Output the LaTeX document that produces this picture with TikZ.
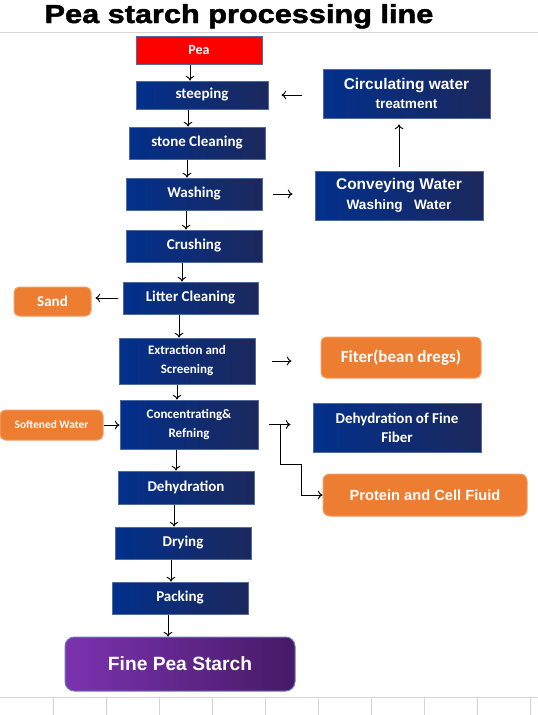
\documentclass[tikz,border=0pt]{standalone}
\usepackage{fontspec}
\usetikzlibrary{arrows.meta}
\newfontfamily\calib{Carlito}
\newfontfamily\arial{Liberation Sans}
\newfontfamily\titlefont{Liberation Sans Bold}[FakeBold=1.8,FakeStretch=1.18]
\definecolor{stepL}{RGB}{2,48,140}
\definecolor{stepR}{RGB}{28,40,92}
\definecolor{stepedge}{RGB}{78,108,160}
\definecolor{peared}{RGB}{255,0,0}
\definecolor{outorange}{RGB}{237,125,49}
\definecolor{starchL}{RGB}{124,50,176}
\definecolor{starchR}{RGB}{70,26,102}
\definecolor{starchedge}{RGB}{112,122,182}
\definecolor{gridgray}{RGB}{212,212,212}
\tikzset{
  boxbase/.style={inner sep=0pt, align=center, text=white, line width=0.75pt},
  stepbox/.style={boxbase, draw=stepedge, left color=stepL, middle color=stepL!85!stepR, right color=stepR, font=\calib\bfseries\fontsize{11.25}{14.25}\selectfont},
  outbox/.style={boxbase, draw=outorange!75!white, fill=outorange, rounded corners=4pt, font=\calib\bfseries\fontsize{11.25}{14.25}\selectfont},
  flow/.style={-{To[length=3.5pt,width=6.5pt]}, line width=0.7pt},
}
\begin{document}
\begin{tikzpicture}[x=0.75pt,y=0.75pt,yscale=-1,xscale=1]
\useasboundingbox (0,0) rectangle (538,715);
\fill[white] (0,0) rectangle (538,715);

% Title
\node (title) [anchor=base, font=\titlefont\fontsize{19.5}{22}\selectfont] at (239,23) {Pea starch processing line};
% Sheet lines
\draw[gridgray, line width=0.75pt] (0,32) -- (538,32);
\draw[gridgray, line width=0.75pt] (0,697) -- (538,697);
\foreach \gx in {53,106,...,530}
  \draw[gridgray, line width=0.75pt] (\gx,697) -- (\gx,715);

% Main line
\node (pea) [boxbase, draw=stepedge, fill=peared, font=\calib\bfseries\fontsize{10.5}{12}\selectfont, minimum width=94.5pt, minimum height=21pt] at (199,50) {Pea};
\node (steep) [stepbox, minimum width=99pt, minimum height=21pt] at (202,95) {steeping};
\node (stone) [stepbox, minimum width=102pt, minimum height=24pt] at (197,143) {stone Cleaning};
\node (wash) [stepbox, minimum width=102pt, minimum height=24pt] at (194,194) {Washing};
\node (crush) [stepbox, minimum width=102pt, minimum height=24pt] at (194,246) {Crushing};
\node (litter) [stepbox, minimum width=101.25pt, minimum height=24pt] at (190.5,298) {Litter Cleaning};
\node (extract) [stepbox, font=\calib\bfseries\fontsize{9.75}{14.25}\selectfont, minimum width=102pt, minimum height=34.5pt] at (187,361) {Extraction and\\Screening};
\node (conc) [stepbox, font=\calib\bfseries\fontsize{9.75}{14.25}\selectfont, minimum width=103.5pt, minimum height=36.75pt] at (189,424.5) {Concentrating\&\\Refning};
\node (dehyd) [stepbox, minimum width=102pt, minimum height=24.75pt] at (186,487.5) {Dehydration};
\node (dry) [stepbox, minimum width=102pt, minimum height=24pt] at (183,543) {Drying};
\node (pack) [stepbox, minimum width=102pt, minimum height=24pt] at (180,598) {Packing};
\node (fine) [boxbase, draw=starchedge, left color=starchL, right color=starchR, rounded corners=7pt, font=\arial\bfseries\fontsize{14.4}{16}\selectfont, minimum width=172.5pt, minimum height=40.5pt] at (180,664) {Fine Pea Starch};

% Side boxes
\node (circ) [stepbox, font=\arial\bfseries\fontsize{11.6}{14.25}\selectfont, minimum width=125.25pt, minimum height=36.75pt] at (406.5,93.5) {Circulating water\\{\fontsize{10.2}{12}\selectfont treatment}};
\node (convey) [stepbox, font=\arial\bfseries\fontsize{11.6}{15}\selectfont, minimum width=126pt, minimum height=36.75pt] at (399,195.5) {Conveying Water\\{\fontsize{10.2}{12}\selectfont Washing\ \ \ Water}};
\node (sand) [outbox, minimum width=57.75pt, minimum height=21.75pt] at (52.5,301.5) {Sand};
\node (fiter) [outbox, font=\calib\bfseries\fontsize{12.75}{15}\selectfont, minimum width=120pt, minimum height=30.75pt] at (401,357.5) {Fiter(bean dregs)};
\node (soft) [outbox, font=\calib\bfseries\fontsize{8.5}{10}\selectfont, minimum width=77.25pt, minimum height=22.5pt] at (51.5,425) {Softened Water};
\node (dfine) [stepbox, minimum width=126pt, minimum height=36.75pt] at (397,427.5) {Dehydration of Fine\\Fiber};
\node (protein) [outbox, rounded corners=5pt, font=\arial\bfseries\fontsize{11}{13}\selectfont, minimum width=153pt, minimum height=31.5pt] at (425,495) {Protein and Cell Fiuid};

% Arrows down the line
\foreach \a/\b/\d in {pea/steep/9, steep/stone/14, stone/wash/10, wash/crush/8, crush/litter/12, litter/extract/11.5, extract/conc/10, conc/dehyd/13, dehyd/dry/12, dry/pack/12, pack/fine/12}
  \draw[flow] ([xshift=-\d*0.75pt]\a.south) -- ([xshift=-\d*0.75pt]\a.south |- \b.north);

% Side arrows
\draw[flow, shorten <=15.75pt, shorten >=9.75pt] (circ.west |- steep.east) -- (steep.east);
\draw[flow, shorten <=7.5pt, shorten >=16.5pt] (wash.east) -- (wash.east -| convey.west);
\draw[flow, shorten <=3pt, shorten >=4.5pt] (convey.north) -- (convey.north |- circ.south);
\draw[flow, shorten <=3.75pt, shorten >=3pt] (litter.west) -- (litter.west -| sand.east);
\draw[flow, shorten <=12pt, shorten >=21.75pt] (extract.east) -- (extract.east -| fiter.west);
\draw[flow] (soft.east) -- (soft.east -| conc.west);
\draw[flow, shorten <=7.5pt, shorten >=16.5pt] (conc.east) -- (conc.east -| dfine.west);
\draw[flow] ([xshift=16.5pt]conc.east) -- ++(0,40) -- ++(21,0) |- (protein.west);

\end{tikzpicture}
\end{document}
